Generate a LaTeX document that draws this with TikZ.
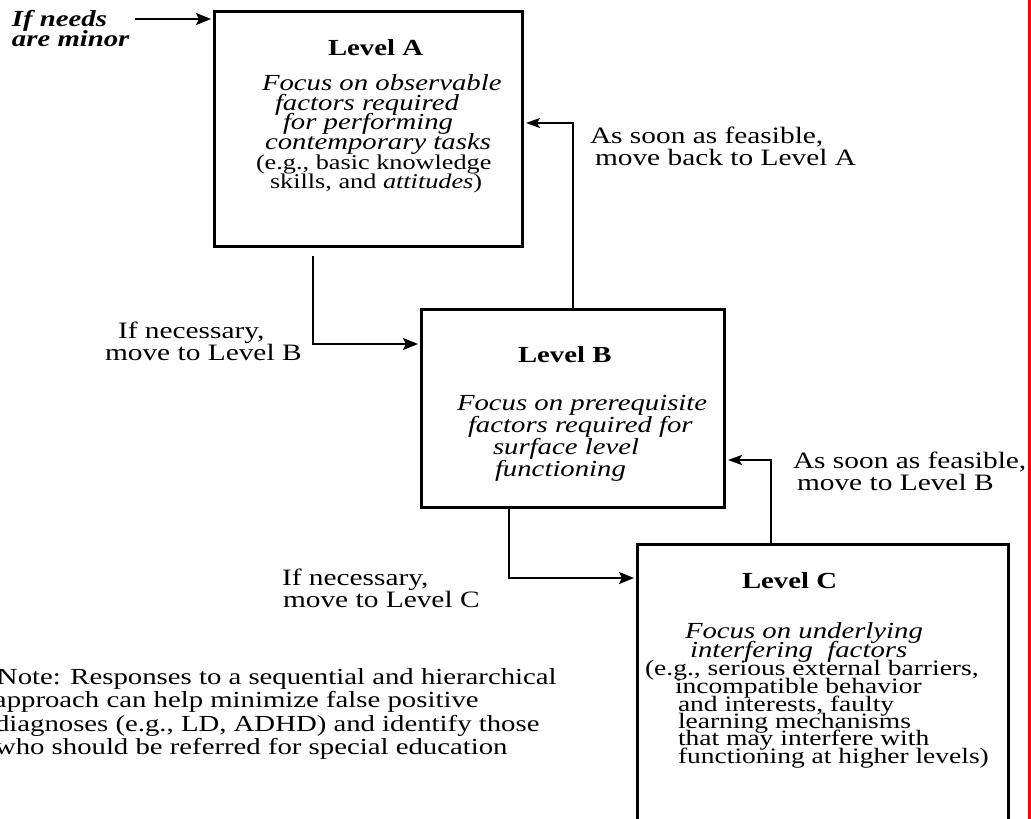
\documentclass[tikz,border=0pt]{standalone}
\usepackage{fontspec}
\setmainfont{Liberation Serif}[FakeStretch=1.25]
\usetikzlibrary{arrows.meta}
\begin{document}
\begin{tikzpicture}[x=1pt,y=-1pt,
  box/.style={draw, line width=3pt, inner sep=0pt, anchor=north west},
  txt/.style={anchor=base west, inner sep=0pt, outer sep=0pt},
  ttl/.style={txt, font=\fontsize{23}{23}\selectfont\bfseries},
  ita/.style={txt, font=\fontsize{23}{23}\selectfont\itshape},
  paren/.style={txt, font=\fontsize{21}{21}\selectfont},
  cparen/.style={txt, font=\fontsize{22}{22}\selectfont},
  lbl/.style={txt, font=\fontsize{23.5}{23.5}\selectfont},
  notetxt/.style={txt, font=\fontsize{23}{23}\selectfont},
  minortxt/.style={txt, font=\fontsize{23}{23}\selectfont\bfseries\itshape},
  arr/.style={line width=2.5pt, -{Stealth[length=15pt,width=12pt,inset=3pt]}, shorten >=2pt},
  thinarr/.style={line width=2pt, -{Stealth[length=14pt,width=10pt,inset=3pt]}, shorten >=2pt},
]
\useasboundingbox (0,0) rectangle (1031,819);
\clip (0,0) rectangle (1031,819);

% boxes
\node (A) [box, minimum width=308pt, minimum height=235pt] at (213,10) {};
\node (B) [box, minimum width=303pt, minimum height=198pt] at (420,308) {};
\node (C) [box, minimum width=371pt, minimum height=300pt] at (636,543) {};

% red rule
\draw[red, line width=2.5pt] (1029.5,0) -- (1029.5,819);

% top-left label
\node (m1) [minortxt] at (12,27) {If needs};
\node (m2) [minortxt] at (12,46) {are minor};
\coordinate (mstart) at (135,19);
\draw[arr] (mstart) -- (A.west |- mstart);

% Level A text
\node (a0) [ttl] at (328,55) {Level A};
\node (a1) [ita] at (262,90) {Focus on observable};
\node (a2) [ita] at (275,110) {factors required};
\node (a3) [ita] at (283,129) {for performing};
\node (a4) [ita] at (265,149) {contemporary tasks};
\node (a5) [paren] at (256,169) {(e.g., basic knowledge};
\node (a6) [paren] at (270,188) {skills, and \textit{attitudes})};

% Level B text
\node (b0) [ttl] at (518,362) {Level B};
\node (b1) [ita] at (457,410) {Focus on prerequisite};
\node (b2) [ita] at (468,432) {factors required for};
\node (b3) [ita] at (493,454) {surface level};
\node (b4) [ita] at (495,476) {functioning};

% Level C text
\node (c0) [ttl] at (742,588) {Level C};
\node (c1) [ita] at (685,638) {Focus on underlying};
\node (c2) [ita] at (690,657) {interfering\ \ factors};
\node (c3) [cparen] at (645,675) {(e.g., serious external barriers,};
\node (c4) [cparen] at (675,693) {incompatible behavior};
\node (c5) [cparen] at (678,711) {and interests, faulty};
\node (c6) [cparen] at (678,728) {learning mechanisms};
\node (c7) [cparen] at (678,745) {that may interfere with};
\node (c8) [cparen] at (678,763) {functioning at higher levels)};

% connector labels
\node (l1) [lbl] at (590,143) {As soon as feasible,};
\node (l2) [lbl] at (595,165) {move back to Level A};
\node (l3) [lbl] at (118,338) {If necessary,};
\node (l4) [lbl] at (105,360) {move to Level B};
\node (l5) [lbl] at (793,468) {As soon as feasible,};
\node (l6) [lbl] at (797,490) {move to Level B};
\node (l7) [lbl] at (282,585) {If necessary,};
\node (l8) [lbl] at (283,607) {move to Level C};

% note
\node (n1) [notetxt] at (-3,684) {Note: Responses to a sequential and hierarchical};
\node (n2) [notetxt] at (-6,707) {approach can help minimize false positive};
\node (n3) [notetxt] at (-5,731) {diagnoses (e.g., LD, ADHD) and identify those};
\node (n4) [notetxt] at (-5,754) {who should be referred for special education};

% connectors
\coordinate (afoot) at (313,256);
\draw[arr] (afoot) |- (B.west |- 0,344);
\draw[thinarr] (B.north -| 573,0) |- (A.east |- 0,123);
\draw[arr] (B.south -| 509,0) |- (C.west |- 0,578);
\draw[thinarr] (C.north -| 771,0) |- (B.east |- 0,460);
\end{tikzpicture}
\end{document}
